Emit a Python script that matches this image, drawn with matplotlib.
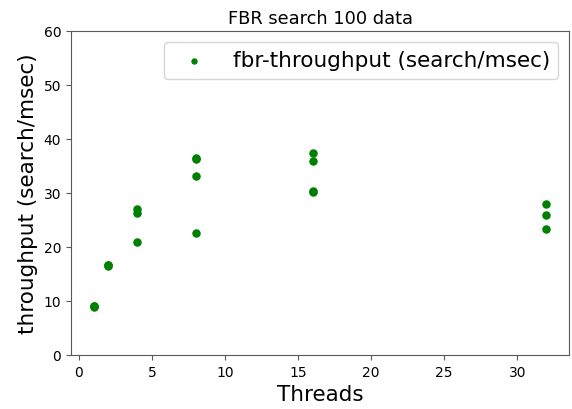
import matplotlib
matplotlib.use("Agg")
import matplotlib.pyplot as plt

# threads and measured throughput (search/msec), several runs per thread count
threads = [1, 1, 1, 2, 2, 2, 4, 4, 4, 8, 8, 8, 8, 16, 16, 16, 16, 32, 32, 32]
throughput = [8.9, 9.0, 9.0, 16.4, 16.6, 16.7, 27.0, 26.3, 21.0,
              36.5, 36.2, 33.1, 22.6, 37.4, 35.9, 30.4, 30.2, 28.0, 25.9, 23.4]

fig = plt.figure(figsize=(5.72, 4.1), dpi=100)
ax = fig.add_axes([0.124, 0.132, 0.871, 0.79])
ax.scatter(threads, throughput, color="green", s=26, label="fbr-throughput (search/msec)")
ax.set_ylim(0, 60)
ax.set_title("FBR search 100 data", fontsize=12.8)
ax.set_xlabel("Threads", fontsize=15.5)
ax.set_ylabel("throughput (search/msec)", fontsize=15.5)
for sp in ax.spines.values():
    sp.set_color("0.35")
ax.tick_params(colors="0.35", labelcolor="black", labelsize=10)
ax.legend(loc="upper right", fontsize=15.5, markerscale=0.7)
fig.savefig("out.png", dpi=100)
